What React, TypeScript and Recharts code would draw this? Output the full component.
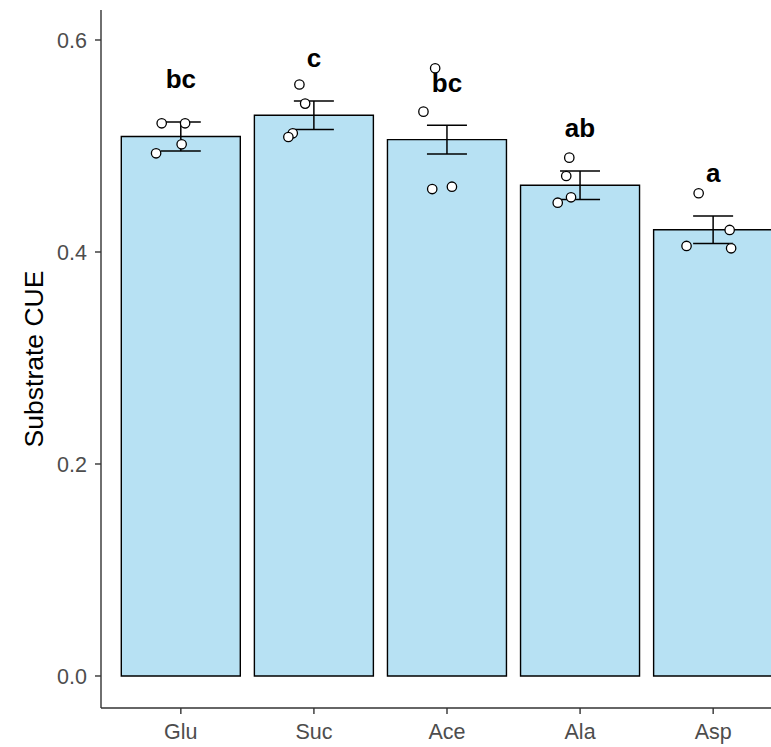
import React from 'react';
import {
  ComposedChart,
  Bar,
  ErrorBar,
  Scatter,
  XAxis,
  YAxis,
  LabelList,
  Label,
} from 'recharts';

// Substrate carbon-use efficiency: group means, standard errors and
// Tukey letters, plus the individual replicate measurements.
const substrates = ['Glu', 'Suc', 'Ace', 'Ala', 'Asp'];
const meanCUE = [0.509, 0.529, 0.506, 0.463, 0.421];
const seCUE = [0.0137, 0.0135, 0.0135, 0.0134, 0.013];
const letters = ['bc', 'c', 'bc', 'ab', 'a'];

const replicateCUE = [
  [0.5214, 0.5214, 0.5016, 0.4931],
  [0.558, 0.54, 0.512, 0.5085],
  [0.5733, 0.5324, 0.4594, 0.4616],
  [0.489, 0.4717, 0.4465, 0.4516],
  [0.4554, 0.4208, 0.4057, 0.4035],
];
// horizontal jitter of each replicate, in category units
const replicateJitter = [
  [-0.144, 0.032, 0.006, -0.186],
  [-0.109, -0.066, -0.159, -0.192],
  [-0.089, -0.177, -0.111, 0.037],
  [-0.081, -0.104, -0.168, -0.068],
  [-0.109, 0.124, -0.2, 0.135],
];

const yTicks = [0, 0.2, 0.4, 0.6];
const yDomain: [number, number] = [-0.0302, 0.6283];

const barData = substrates.map((s, i) => ({
  substrate: s,
  cue: meanCUE[i],
  se: seCUE[i],
  letter: letters[i],
}));

const pointData = replicateCUE.flatMap((vals, i) =>
  vals.map((v, j) => ({ pos: i + 1 + replicateJitter[i][j], cue: v }))
);

const FONT = "Arial, 'Liberation Sans', sans-serif";
const AXIS = '#333333';
const TICK_TEXT = '#4D4D4D';

const OpenCircle = (props: any) => (
  <circle cx={props.cx} cy={props.cy} r={4.7} fill="#ffffff" stroke="#000000" strokeWidth={1.3} />
);

const YTitle = (props: any) => {
  const vb = props.viewBox || {};
  const cx = vb.x + 33.5;
  const cy = vb.y + vb.height / 2;
  return (
    <text
      x={cx}
      y={cy}
      transform={`rotate(-90, ${cx}, ${cy})`}
      textAnchor="middle"
      dominantBaseline="central"
      fontFamily={FONT}
      fontSize={26.5}
      fill="#000000"
    >
      Substrate CUE
    </text>
  );
};

export default function App() {
  return (
    <div
      style={{
        position: 'absolute',
        left: 0,
        top: 0,
        width: 771,
        height: 747,
        overflow: 'hidden',
        background: '#ffffff',
      }}
    >
      <ComposedChart
        width={793}
        height={747}
        data={barData}
        margin={{ top: 10, right: 0, bottom: 0, left: 0 }}
        style={{ fontFamily: FONT }}
      >
        <XAxis
          xAxisId="cat"
          dataKey="substrate"
          type="category"
          padding={{ left: 13.3, right: 13.3 }}
          height={39}
          tickSize={6}
          tickMargin={10}
          axisLine={{ stroke: AXIS, strokeWidth: 1.4 }}
          tickLine={{ stroke: AXIS, strokeWidth: 1.4 }}
          tick={{ fill: TICK_TEXT, fontSize: 21.5, fontFamily: FONT }}
        />
        <XAxis xAxisId="pos" dataKey="pos" type="number" domain={[0.4, 5.6]} hide allowDataOverflow />
        <YAxis
          width={101}
          type="number"
          domain={yDomain}
          ticks={yTicks}
          allowDataOverflow
          tickFormatter={(v: number) => v.toFixed(1)}
          tickSize={6}
          tickMargin={8}
          axisLine={{ stroke: AXIS, strokeWidth: 1.4 }}
          tickLine={{ stroke: AXIS, strokeWidth: 1.4 }}
          tick={{ fill: TICK_TEXT, fontSize: 21.5, fontFamily: FONT }}
        >
          <Label content={<YTitle />} />
        </YAxis>
        <Bar
          xAxisId="cat"
          dataKey="cue"
          barSize={119}
          fill="#B7E1F3"
          stroke="#000000"
          strokeWidth={1.4}
          isAnimationActive={false}
        >
          <ErrorBar dataKey="se" width={20} stroke="#000000" strokeWidth={1.5} direction="y" />
          <LabelList
            dataKey="letter"
            position="top"
            offset={48}
            fill="#000000"
            fontSize={26}
            fontWeight="bold"
            fontFamily={FONT}
          />
        </Bar>
        <Scatter
          xAxisId="pos"
          data={pointData}
          dataKey="cue"
          shape={<OpenCircle />}
          isAnimationActive={false}
        />
      </ComposedChart>
    </div>
  );
}
